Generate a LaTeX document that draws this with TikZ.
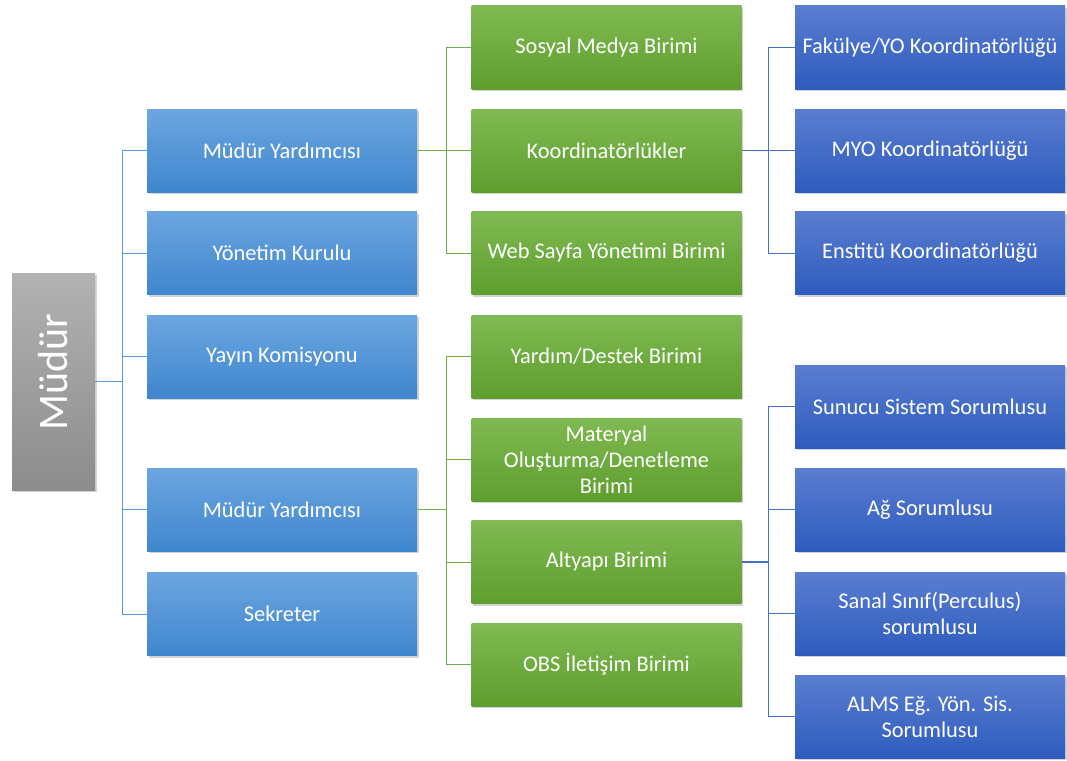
\documentclass[tikz,border=0pt]{standalone}
\usepackage{fontspec}
\setmainfont{Carlito}
\usetikzlibrary{shadows}
\definecolor{lbTop}{HTML}{6CA6E0}
\definecolor{lbBot}{HTML}{3F86CE}
\definecolor{gTop}{HTML}{80BA52}
\definecolor{gBot}{HTML}{5E9E2E}
\definecolor{dbTop}{HTML}{5A7DD0}
\definecolor{dbBot}{HTML}{2E5CBE}
\definecolor{grTop}{HTML}{B2B2B2}
\definecolor{grBot}{HTML}{8C8C8C}
\definecolor{lbLine}{HTML}{5B9BD5}
\definecolor{gLine}{HTML}{70AD47}
\definecolor{dbLine}{HTML}{4472C4}
\tikzset{
  box/.style={minimum width=270pt, minimum height=83pt, inner sep=2pt, text=white,
    font=\fontsize{22.4}{26}\selectfont, align=center,
    drop shadow={shadow xshift=1.5pt, shadow yshift=-2pt, opacity=0.35}},
  lbbox/.style={box, top color=lbTop, bottom color=lbBot},
  gbox/.style={box, top color=gTop, bottom color=gBot},
  dbbox/.style={box, top color=dbTop, bottom color=dbBot},
  stub/.style={line width=1.8pt},
  branch/.style={line width=1pt},
}
\begin{document}
\begin{tikzpicture}[x=1pt,y=-1pt]
\useasboundingbox (0,0) rectangle (1067,760);
% root
\node[minimum width=83pt, minimum height=217pt, inner sep=0pt, top color=grTop, bottom color=grBot,
  drop shadow={shadow xshift=1.5pt, shadow yshift=-2pt, opacity=0.35}] (mud) at (53.5,381.5) {};
\node[text=white, font=\fontsize{42}{48}\selectfont, rotate=90] (mudt) at (53.5,372) {Müdür};
% column 2
\node[lbbox] (my1) at (282,150.5) {Müdür Yardımcısı};
\node[lbbox] (yk) at (282,253) {Yönetim Kurulu};
\node[lbbox] (yay) at (282,356.5) {Yayın Komisyonu};
\node[lbbox] (my2) at (282,509.5) {Müdür Yardımcısı};
\node[lbbox] (sek) at (282,614) {Sekreter};
% column 3
\node[gbox] (sos) at (606.5,47.5) {Sosyal Medya Birimi};
\node[gbox] (koo) at (606.5,150.5) {Koordinatörlükler};
\node[gbox] (web) at (606.5,253) {Web Sayfa Yönetimi Birimi};
\node[gbox] (yar) at (606.5,356.5) {Yardım/Destek Birimi};
\node[gbox] (mat) at (606.5,459.5) {Materyal\\Oluşturma/Denetleme\\Birimi};
\node[gbox] (alt) at (606.5,562) {Altyapı Birimi};
\node[gbox] (obs) at (606.5,664.5) {OBS İletişim Birimi};
% column 4
\node[dbbox] (fak) at (930,47.5) {Fakülye/YO Koordinatörlüğü};
\node[dbbox] (myo) at (930,150.5) {MYO Koordinatörlüğü};
\node[dbbox] (ens) at (930,253) {Enstitü Koordinatörlüğü};
\node[dbbox] (sun) at (930,406.5) {Sunucu Sistem Sorumlusu};
\node[dbbox] (ag) at (930,509.5) {Ağ Sorumlusu};
\node[dbbox] (san) at (930,613.5) {Sanal Sınıf(Perculus)\\sorumlusu};
\node[dbbox] (alm) at (930,716.5) {ALMS Eğ. Yön. Sis.\\Sorumlusu};
% junctions
\coordinate (j1) at (122,381.5);
\coordinate (j2) at (446,150.5);
\coordinate (j3) at (768,150.5);
\coordinate (j4) at (446,509.5);
\coordinate (j5) at (768,562);
% connectors
\draw[lbLine, stub] (mud.east) -- (j1);
\foreach \n in {my1,yk,yay,my2,sek} \draw[lbLine, branch] (j1) |- (\n.west);
\draw[gLine, stub] (my1.east) -- (j2);
\foreach \n in {sos,koo,web} \draw[gLine, branch] (j2) |- (\n.west);
\draw[dbLine, stub] (koo.east) -- (j3);
\foreach \n in {fak,myo,ens} \draw[dbLine, branch] (j3) |- (\n.west);
\draw[gLine, stub] (my2.east) -- (j4);
\foreach \n in {yar,mat,alt,obs} \draw[gLine, branch] (j4) |- (\n.west);
\draw[dbLine, stub] (alt.east) -- (j5);
\foreach \n in {sun,ag,san,alm} \draw[dbLine, branch] (j5) |- (\n.west);
\end{tikzpicture}
\end{document}
